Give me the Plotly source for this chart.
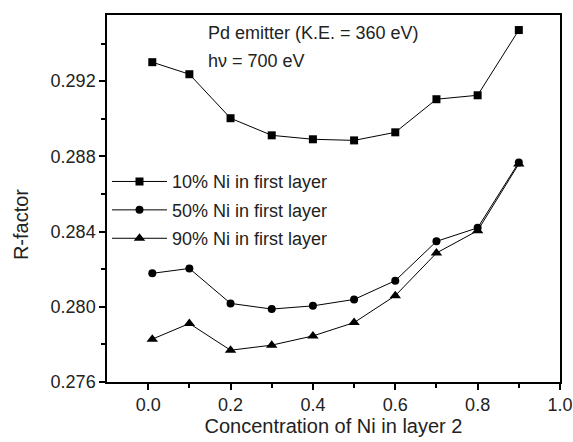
import plotly.graph_objects as go

x_conc = [0.01, 0.1, 0.2, 0.3, 0.4, 0.5, 0.6, 0.7, 0.8, 0.9]
r_10 = [0.29301, 0.29237, 0.29003, 0.28912, 0.28891, 0.28885, 0.28928, 0.29104, 0.29125, 0.29472]
r_50 = [0.28178, 0.28204, 0.28018, 0.27988, 0.28005, 0.28039, 0.28139, 0.28348, 0.28420, 0.28768]
r_90 = [0.27828, 0.27911, 0.27769, 0.27796, 0.27845, 0.27916, 0.28059, 0.28286, 0.28405, 0.28760]

names = ["10% Ni in first layer", "50% Ni in first layer", "90% Ni in first layer"]
series = [r_10, r_50, r_90]
symbols = ["square", "circle", "triangle-up"]
sizes = [8, 8, 10]

fig = go.Figure()
for i, (nm, ys, sym, sz) in enumerate(zip(names, series, symbols, sizes)):
    fig.add_trace(go.Scatter(
        x=x_conc, y=ys, name=nm, mode="lines+markers",
        line=dict(color="black", width=1),
        marker=dict(symbol=sym, size=sz, color="black"),
        legendgroup=f"g{i}",
    ))

font = "Arial, Liberation Sans, sans-serif"
axis_common = dict(
    showline=True, linecolor="black", linewidth=1.5, mirror=True,
    ticks="outside", ticklen=6, tickwidth=1.5, tickcolor="black",
    showgrid=False, zeroline=False, automargin=False,
    tickfont=dict(size=18, color="#222", family=font),
)
fig.update_xaxes(range=[-0.1, 1.0], tickvals=[0.0, 0.2, 0.4, 0.6, 0.8, 1.0],
                 ticktext=["0.0", "0.2", "0.4", "0.6", "0.8", "1.0"],
                 minor=dict(ticks="outside", ticklen=4, tickwidth=1.5, tickcolor="black", tickvals=[0.1, 0.3, 0.5, 0.7, 0.9]),
                 title=dict(text="Concentration of Ni in layer 2", font=dict(size=20, color="#222", family=font), standoff=5),
                 **axis_common)
fig.update_yaxes(range=[0.276, 0.29552], tickvals=[0.276, 0.280, 0.284, 0.288, 0.292],
                 ticktext=["0.276", "0.280", "0.284", "0.288", "0.292"],
                 minor=dict(ticks="outside", ticklen=4, tickwidth=1.5, tickcolor="black", tickvals=[0.278, 0.282, 0.286, 0.290, 0.294]),
                 **axis_common)

fig.add_annotation(x=-0.19, y=0.43, xref="paper", yref="paper", xanchor="center", yanchor="middle",
                   text="R-factor", textangle=-90, showarrow=False,
                   font=dict(size=20, color="#222", family=font))
fig.add_annotation(x=0.218, y=0.952, xref="paper", yref="paper", xanchor="left", yanchor="middle",
                   text="Pd emitter (K.E. = 360 eV)", showarrow=False,
                   font=dict(size=18, color="#222", family=font))
fig.add_annotation(x=0.218, y=0.875, xref="paper", yref="paper", xanchor="left", yanchor="middle",
                   text="hν = 700 eV", showarrow=False,
                   font=dict(size=18, color="#222", family=font))

fig.update_layout(
    width=573, height=442,
    margin=dict(l=107, r=13, t=15, b=60, autoexpand=False),
    paper_bgcolor="white", plot_bgcolor="white",
    showlegend=True,
    legend=dict(x=0.0, y=0.596, xanchor="left", yanchor="top",
                bgcolor="rgba(0,0,0,0)", font=dict(size=18, color="#222", family=font),
                tracegroupgap=2, itemwidth=55),
)

fig.write_html("out.html")
